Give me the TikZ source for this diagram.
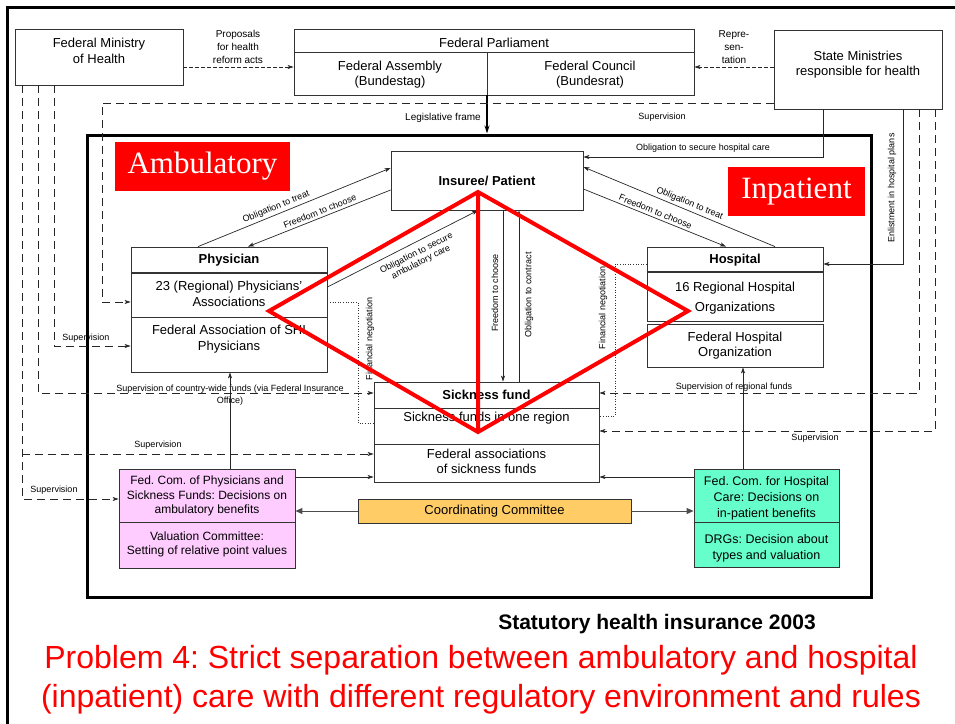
\documentclass[tikz,border=0pt]{standalone}
\usepackage{fontspec}
\setmainfont{Liberation Sans}
\newfontfamily\tagserif{Liberation Serif}
\usetikzlibrary{arrows.meta}
\definecolor{pinkfill}{HTML}{FFCCFF}
\definecolor{greenfill}{HTML}{66FFCC}
\definecolor{ccfill}{HTML}{FFCC66}
\frenchspacing

\begin{document}
\begin{tikzpicture}[x=1pt,y=-1pt,
  box/.style={draw=black!80,line width=.8pt,inner sep=0pt},
  bt/.style={inner sep=0pt,align=center,font=\fontsize{13}{15.5}\selectfont},
  bth/.style={inner sep=0pt,align=center,font=\bfseries\fontsize{13}{15.5}\selectfont},
  lbl/.style={inner sep=1pt,align=center,font=\fontsize{9}{11.5}\selectfont},
  lblt/.style={inner sep=1pt,align=center,font=\fontsize{10}{13}\selectfont},
  con/.style={draw=black!85,line width=.7pt},
  arrowend/.style={-{Stealth[length=6pt,width=4pt,inset=1.5pt]}},
  arrowstart/.style={{Stealth[length=6pt,width=4pt,inset=1.5pt]}-},
  sup/.style={con,dash pattern=on 8pt off 5pt},
  finedash/.style={con,dash pattern=on 3.5pt off 2.5pt},
  negot/.style={draw=black!80,line width=.6pt,dotted},
  redtag/.style={fill=red,text=white,inner sep=0pt,font=\tagserif\fontsize{31}{33}\selectfont}]
\useasboundingbox (0,0) rectangle (955,723);
% outer frame
\draw[line width=3pt] (7,740) -- (7,7) -- (970,7);

% top row
\node[box,minimum width=168,minimum height=56] (fmh) at (99,57) {};
\node[bt] (fmhT) at (99,51) {Federal Ministry\\of Health};
\node[box,minimum width=400,minimum height=66] (parl) at (494,62) {};
\draw[box] (parl.west |- 0,52) -- (parl.east |- 0,52) (487,52) -- (parl.south -| 487,0);
\node[bt] (parlT) at (494,43) {Federal Parliament};
\node[bt] (assembly) at (390,74.5) {Federal Assembly\\(Bundestag)};
\node[bt] (council) at (590,74.5) {Federal Council\\(Bundesrat)};
\node[box,minimum width=168,minimum height=79] (sm) at (858,69.5) {};
\node[bt] (smT) at (858,64.5) {State Ministries\\responsible for health};

% inner frame and tags
\node[draw,line width=3pt,inner sep=0pt,minimum width=784,minimum height=462] (frame) at (479,366) {};
\node[redtag,minimum width=175,minimum height=49] (amb) at (202.5,166.5) {Ambulatory};
\node[redtag,minimum width=137,minimum height=49] (inp) at (796.5,191.5) {Inpatient};

% actors
\node[box,bth,minimum width=192,minimum height=59] (ins) at (487,180.5) {Insuree/ Patient};

\node[box,minimum width=196,minimum height=125] (phys) at (229,309.5) {};
\draw[box,line width=1.4pt] (phys.west |- 0,273) -- (phys.east |- 0,273);
\draw[box] (phys.west |- 0,317) -- (phys.east |- 0,317);
\node[bth] (physT) at (229,260) {Physician};
\node[bt] (rpa) at (229,294) {23 (Regional) Physicians'\\Associations};
\node[bt] (fap) at (229,339) {Federal Association of SHI\\Physicians};

\node[box,minimum width=176,minimum height=74] (hosp) at (735,284) {};
\draw[box,line width=1.4pt] (hosp.west |- 0,272) -- (hosp.east |- 0,272);
\node[bth] (hospT) at (735,260) {Hospital};
\node[bt] (rho) at (735,298) {16 Regional Hospital\\[4pt]Organizations};
\node[box,bt,minimum width=176,minimum height=43] (fho) at (735,345.5) {Federal Hospital\\Organization};

\node[box,minimum width=225,minimum height=100] (sf) at (486.5,432) {};
\draw[box] (sf.west |- 0,408) -- (sf.east |- 0,408) (sf.west |- 0,444) -- (sf.east |- 0,444);
\node[bth] (sfT) at (486.5,395) {Sickness fund};
\node[bt] (sfr) at (486.5,418) {Sickness funds in one region};
\node[bt] (sfa) at (486.5,461.5) {Federal associations\\of sickness funds};

% committees
\node[box,fill=pinkfill,minimum width=176,minimum height=99] (fcp) at (207,518.5) {};
\draw[box] (fcp.west |- 0,522) -- (fcp.east |- 0,522);
\node[bt,font=\fontsize{12}{14.5}\selectfont] (fcpT) at (207,496) {Fed. Com. of Physicians and\\Sickness Funds: Decisions on\\ambulatory benefits};
\node[bt,font=\fontsize{12}{14.5}\selectfont] (valc) at (207,544.5) {Valuation Committee:\\Setting of relative point values};
\node[box,fill=greenfill,minimum width=145,minimum height=98] (fch) at (766.5,518) {};
\draw[box] (fch.west |- 0,522) -- (fch.east |- 0,522);
\node[bt,font=\fontsize{12.5}{16}\selectfont] (fchT) at (766.5,498) {Fed. Com. for Hospital\\Care: Decisions on\\in-patient benefits};
\node[bt,font=\fontsize{12.5}{16}\selectfont] (drg) at (766.5,548) {DRGs: Decision about\\types and valuation};
\node[box,bt,fill=ccfill,minimum width=273,minimum height=24] (cc) at (494.5,511) {Coordinating Committee};

% federal level
\draw[finedash,arrowend] (fmh.east |- 0,67) -- (parl.west |- 0,67);
\node[lblt] (lprop) at (238,47) {Proposals\\for health\\reform acts};
\draw[finedash,arrowend] (sm.west |- 0,67) -- (parl.east |- 0,67);
\node[lblt] (lrep) at (734,47) {Repre-\\sen-\\tation};
\draw[line width=2pt,-{Stealth[length=8pt,width=5pt]}] (parl.south -| 487,0) -- (frame.north -| 487,0);
\node[lblt,anchor=east] (lleg) at (482,118) {Legislative frame};

% supervision by the states
\draw[sup,arrowend] (sm.west |- 0,103) -- (102,103) -- (102,302) -- (phys.west |- 0,302);
\node[lbl] (lsup1) at (662,117) {Supervision};
\draw[con,arrowend] (sm.south -| 823,0) -- (823,157) -- (ins.east |- 0,157);
\node[lbl] (lshc) at (703,148) {Obligation to secure hospital care};
\draw[con,arrowend] (sm.south -| 903,0) -- (903,264) -- (hosp.east |- 0,264);
\node[lbl,rotate=90] (lenl) at (892,188) {Enlistment in hospital plans};
\draw[sup,arrowend] (sm.south -| 919,0) -- (919,393) -- (sf.east |- 0,393);
\node[lbl] (lreg) at (734,387) {Supervision of regional funds};
\draw[sup,arrowend] (sm.south -| 935,0) -- (935,431) -- (sf.east |- 0,431);
\node[lbl] (lsup2) at (815,438) {Supervision};

% supervision by the federal ministry
\draw[sup,arrowend] (fmh.south -| 54,0) -- (54,346) -- (phys.west |- 0,346);
\node[lbl] (lsup3) at (86,338) {Supervision};
\draw[sup,arrowend] (fmh.south -| 38,0) -- (38,393) -- (sf.west |- 0,393);
\node[lbl] (lcw) at (230,395) {Supervision of country-wide funds (via Federal Insurance\\Office)};
\draw[sup,arrowend] (fmh.south -| 22,0) -- (22,499) -- (fcp.west |- 0,499);
\node[lbl] (lsup4) at (54,490) {Supervision};
\draw[sup,arrowend] (22,454) -- (sf.west |- 0,454);
\node[lbl] (lsup5) at (158,445) {Supervision};

% insuree relations
\draw[con,arrowend] (phys.north -| 198,0) -- (ins.west |- 0,168)
  node[lbl,pos=.42,sloped,above=1.5pt] (lot1) {Obligation to treat};
\draw[con,arrowstart] (phys.north -| 248,0) -- (ins.west |- 0,190)
  node[lbl,pos=.52,sloped,above=1.5pt] (lfc1) {Freedom to choose};
\draw[con,arrowend] (phys.east |- 0,287) -- (ins.south -| 478,0)
  node[lbl,pos=.56,sloped,below=5pt,font=\fontsize{9}{10}\selectfont] (lamb) {Obligation to secure\\ambulatory care};
\draw[con,arrowstart] (ins.east |- 0,167) -- (hosp.north -| 775,0)
  node[lbl,pos=.54,sloped,above=1.5pt] (lot2) {Obligation to treat};
\draw[con,arrowend] (ins.east |- 0,189) -- (hosp.north -| 726,0)
  node[lbl,pos=.49,sloped,above=1.5pt] (lfc2) {Freedom to choose};
\draw[con,arrowend] (ins.south -| 503,0) -- (sf.north -| 503,0);
\node[lbl,rotate=90] (lfc3) at (495,293) {Freedom to choose};
\draw[con,arrowend] (sf.north -| 519,0) -- (ins.south -| 519,0);
\node[lbl,rotate=90] (loc) at (529,295) {Obligation to contract};

% negotiations
\draw[negot] (phys.east |- 0,302) -- (358,302) -- (358,423) -- (sf.west |- 0,423);
\node[lbl,rotate=90] (lfn1) at (370,339) {Financial negotiation};
\draw[negot] (hosp.west |- 0,264) -- (615,264) -- (615,416) -- (sf.east |- 0,416);
\node[lbl,rotate=90] (lfn2) at (603,308) {Financial negotiation};

% committees to actors
\draw[con,arrowend] (fcp.north -| 230,0) -- (phys.south -| 230,0);
\draw[con,arrowend] (fcp.east |- 0,477) -- (sf.west |- 0,477);
\draw[con,arrowend] (fch.west |- 0,477) -- (sf.east |- 0,477);
\draw[con,arrowend] (fch.north -| 743,0) -- (fho.south -| 743,0);
\draw[draw=black!70,line width=.9pt,-{Triangle[length=7pt,width=6pt]}] (cc.west) -- (fcp.east |- cc.west);
\draw[draw=black!70,line width=.9pt,-{Triangle[length=7pt,width=6pt]}] (cc.east) -- (fch.west |- cc.east);

% red diamond
\draw[red,line width=4pt] (478,192) -- (269,311) -- (478,432) -- (688,311) -- cycle (478,192) -- (478,432);

% captions
\node[inner sep=0pt,font=\bfseries\fontsize{21}{24}\selectfont] (stat) at (657,624) {Statutory health insurance 2003};
\node[text=red,align=center,inner sep=0pt,font=\fontsize{32}{39}\selectfont] (prob) at (481,680) {Problem 4: Strict separation between ambulatory and hospital\\(inpatient) care with different regulatory environment and rules};
\end{tikzpicture}
\end{document}
